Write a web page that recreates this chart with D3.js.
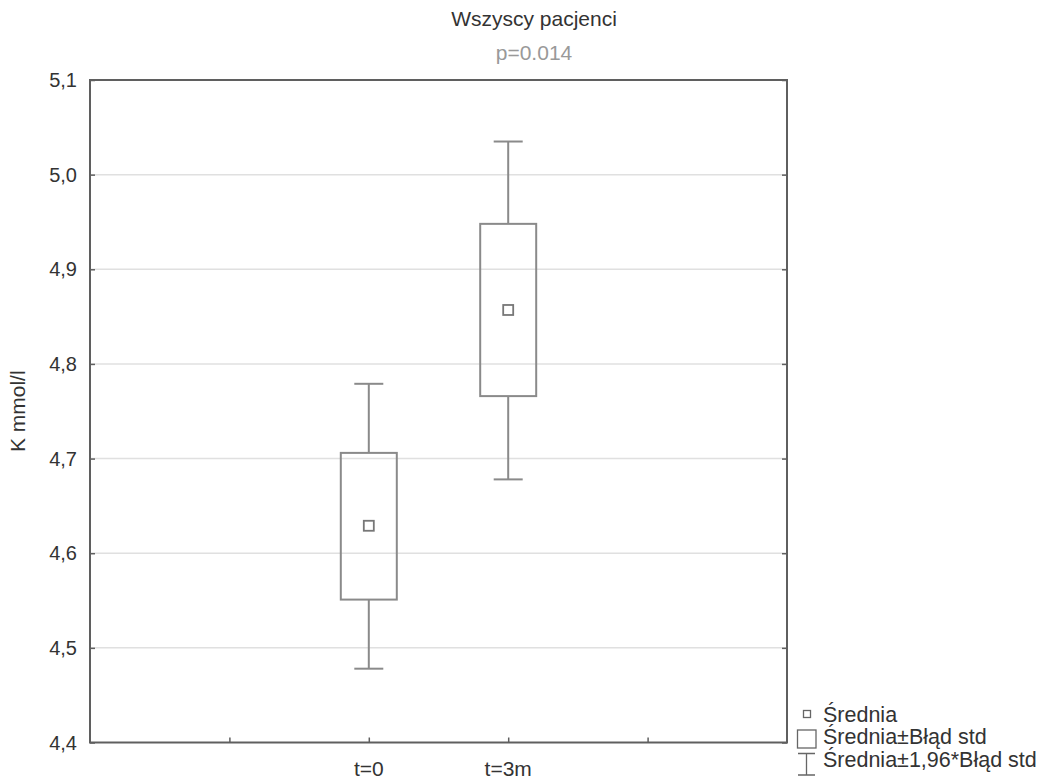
<!DOCTYPE html>
<html>
<head>
<meta charset="utf-8">
<script src="https://cdn.jsdelivr.net/npm/d3@7.9.0/dist/d3.min.js"></script>
<style>
  body { margin: 0; background: #fff; }
  svg { font-family: 'Liberation Sans', Arial, sans-serif; }
</style>
</head>
<body>
<svg id="chart" width="1051" height="780"></svg>
<script>
// values
const categories = ['t=0', 't=3m'];
const catPos = [1, 2];
const means = [4.629, 4.857];
const boxLow = [4.551, 4.766];
const boxHigh = [4.706, 4.948];
const whiskLow = [4.478, 4.678];
const whiskHigh = [4.779, 5.035];
const yTicks = [4.4, 4.5, 4.6, 4.7, 4.8, 4.9, 5.0, 5.1];
const xTicks = [0, 1, 2, 3];
const legendItems = ['Średnia', 'Średnia±Błąd std', 'Średnia±1,96*Błąd std'];

const plotLeft = 90, plotRight = 787, plotTop = 80, plotBottom = 742.5;

const svg = d3.select('#chart');

const x = d3.scaleLinear().domain([-1, 4]).range([plotLeft, plotRight]);
const y = d3.scaleLinear().domain([4.4, 5.1]).range([plotBottom, plotTop]);

const boxColor = '#8a8a8a';
const frameColor = '#5f5f5f';

// grid
svg.append('g')
  .selectAll('line')
  .data(yTicks.slice(1, -1))
  .join('line')
  .attr('x1', plotLeft).attr('x2', plotRight)
  .attr('y1', d => y(d)).attr('y2', d => y(d))
  .attr('stroke', '#e0e0e0')
  .attr('stroke-width', 1.5);

// y axis (ticks inward, both sides)
const yAxis = svg.append('g')
  .attr('transform', `translate(${plotLeft},0)`)
  .call(d3.axisRight(y).tickValues(yTicks).tickSize(5).tickFormat(''));
yAxis.select('.domain').remove();
yAxis.selectAll('line').attr('stroke', frameColor).attr('stroke-width', 1.5);

const yAxisR = svg.append('g')
  .attr('transform', `translate(${plotRight},0)`)
  .call(d3.axisLeft(y).tickValues(yTicks).tickSize(5).tickFormat(''));
yAxisR.select('.domain').remove();
yAxisR.selectAll('line').attr('stroke', frameColor).attr('stroke-width', 1.5);

svg.append('g')
  .selectAll('text')
  .data(yTicks)
  .join('text')
  .attr('x', 77)
  .attr('y', d => y(d))
  .attr('dy', '0.36em')
  .attr('text-anchor', 'end')
  .attr('font-size', 20)
  .attr('fill', '#333')
  .text(d => d3.format('.1f')(d).replace('.', ','));

// x axis (ticks inward)
const xAxis = svg.append('g')
  .attr('transform', `translate(0,${plotBottom})`)
  .call(d3.axisTop(x).tickValues(xTicks).tickSize(5).tickFormat(''));
xAxis.select('.domain').remove();
xAxis.selectAll('line').attr('stroke', frameColor).attr('stroke-width', 1.5);

svg.append('g')
  .selectAll('text')
  .data(categories)
  .join('text')
  .attr('x', (d, i) => x(catPos[i]))
  .attr('y', 776)
  .attr('text-anchor', 'middle')
  .attr('font-size', 21)
  .attr('fill', '#333')
  .text(d => d);

// frame
svg.append('rect')
  .attr('x', plotLeft).attr('y', plotTop)
  .attr('width', plotRight - plotLeft).attr('height', plotBottom - plotTop)
  .attr('fill', 'none')
  .attr('stroke', frameColor)
  .attr('stroke-width', 2);

// boxes
const boxW = 56, capW = 29, markS = 10;
const g = svg.append('g').selectAll('g')
  .data(categories)
  .join('g');

g.append('line')
  .attr('x1', (d, i) => x(catPos[i])).attr('x2', (d, i) => x(catPos[i]))
  .attr('y1', (d, i) => y(whiskHigh[i])).attr('y2', (d, i) => y(boxHigh[i]))
  .attr('stroke', boxColor).attr('stroke-width', 2);
g.append('line')
  .attr('x1', (d, i) => x(catPos[i])).attr('x2', (d, i) => x(catPos[i]))
  .attr('y1', (d, i) => y(boxLow[i])).attr('y2', (d, i) => y(whiskLow[i]))
  .attr('stroke', boxColor).attr('stroke-width', 2);
g.append('line')
  .attr('x1', (d, i) => x(catPos[i]) - capW / 2).attr('x2', (d, i) => x(catPos[i]) + capW / 2)
  .attr('y1', (d, i) => y(whiskHigh[i])).attr('y2', (d, i) => y(whiskHigh[i]))
  .attr('stroke', boxColor).attr('stroke-width', 2);
g.append('line')
  .attr('x1', (d, i) => x(catPos[i]) - capW / 2).attr('x2', (d, i) => x(catPos[i]) + capW / 2)
  .attr('y1', (d, i) => y(whiskLow[i])).attr('y2', (d, i) => y(whiskLow[i]))
  .attr('stroke', boxColor).attr('stroke-width', 2);
g.append('rect')
  .attr('x', (d, i) => x(catPos[i]) - boxW / 2)
  .attr('y', (d, i) => y(boxHigh[i]))
  .attr('width', boxW)
  .attr('height', (d, i) => y(boxLow[i]) - y(boxHigh[i]))
  .attr('fill', 'none')
  .attr('stroke', boxColor).attr('stroke-width', 2);
g.append('rect')
  .attr('x', (d, i) => x(catPos[i]) - markS / 2)
  .attr('y', (d, i) => y(means[i]) - markS / 2)
  .attr('width', markS).attr('height', markS)
  .attr('fill', '#fff')
  .attr('stroke', '#777').attr('stroke-width', 1.8);

// titles
svg.append('text')
  .attr('x', 534).attr('y', 26)
  .attr('text-anchor', 'middle')
  .attr('font-size', 21)
  .attr('fill', '#333')
  .text('Wszyscy pacjenci');
svg.append('text')
  .attr('x', 534).attr('y', 60)
  .attr('text-anchor', 'middle')
  .attr('font-size', 21)
  .attr('fill', '#999')
  .text('p=0.014');

// y label
svg.append('text')
  .attr('transform', `translate(25,${(plotTop + plotBottom) / 2}) rotate(-90)`)
  .attr('text-anchor', 'middle')
  .attr('font-size', 21)
  .attr('fill', '#333')
  .text('K mmol/l');

// legend
const legRowY = [721.5, 744, 766.5];
const leg = svg.append('g');
leg.selectAll('text')
  .data(legendItems)
  .join('text')
  .attr('x', 823)
  .attr('y', (d, i) => legRowY[i])
  .attr('font-size', 21.5)
  .attr('fill', '#333')
  .text(d => d);
leg.append('rect')
  .attr('x', 803.5).attr('y', 710.5).attr('width', 7).attr('height', 7)
  .attr('fill', '#fff').attr('stroke', '#666').attr('stroke-width', 1.3);
leg.append('rect')
  .attr('x', 797.5).attr('y', 730).attr('width', 18.5).attr('height', 18)
  .attr('fill', '#fff').attr('stroke', '#666').attr('stroke-width', 1.3);
leg.append('path')
  .attr('d', 'M798,753.5H815M806.5,753.5V775M798,775H815')
  .attr('fill', 'none').attr('stroke', '#666').attr('stroke-width', 1.3);
</script>
</body>
</html>
